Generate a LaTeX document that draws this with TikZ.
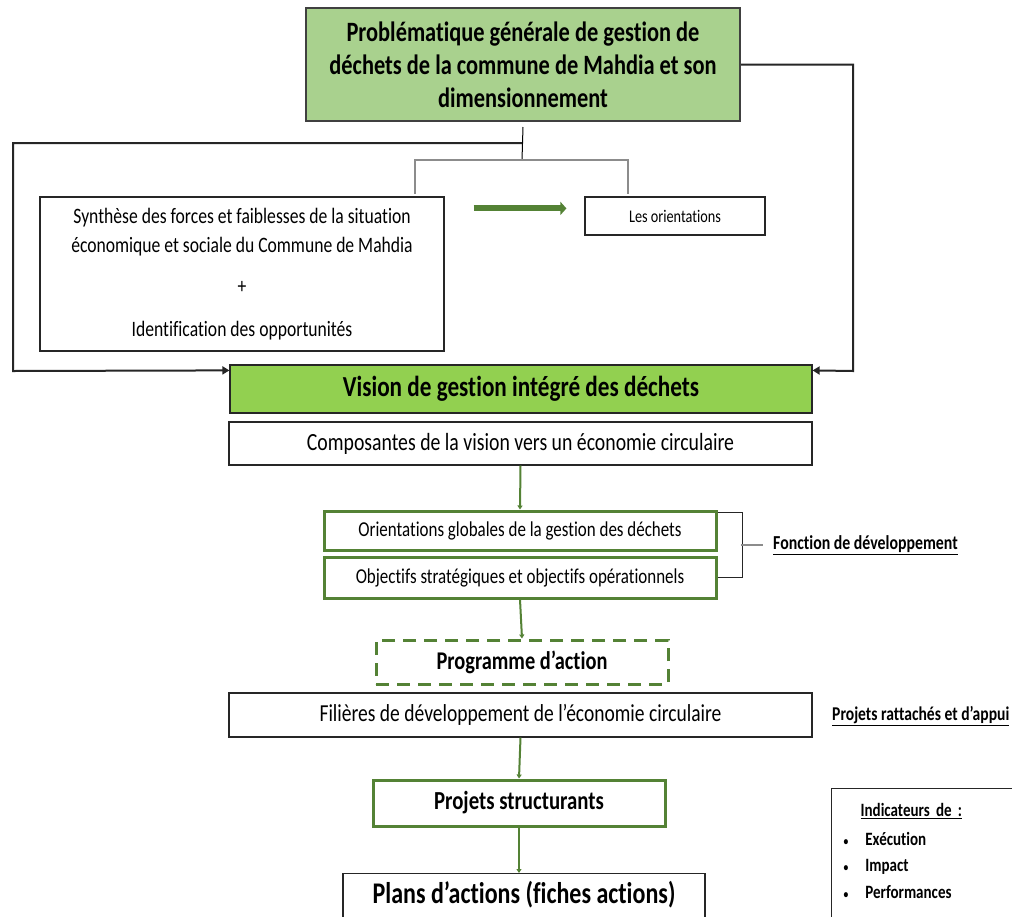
\documentclass[tikz,border=0pt]{standalone}
\usepackage{fontspec}
\setmainfont[FakeStretch=0.8, Ligatures=NoCommon]{Carlito}
\usetikzlibrary{arrows.meta,calc,positioning}
\definecolor{leaf}{HTML}{548235}
\definecolor{palegreen}{HTML}{A9D18E}
\definecolor{limegreen}{HTML}{92D050}

\begin{document}
\begin{tikzpicture}[
x=1pt, y=-1pt,
plainbox/.style={draw=black!85, line width=1.2pt, fill=white, align=center, inner sep=0pt},
greenbox/.style={draw=leaf, line width=3pt, fill=white, align=center, inner sep=0pt},
loopline/.style={-{Triangle[length=7pt,width=8pt]}, line width=2pt, draw=black!85},
flow/.style={-{Triangle[length=4pt,width=5pt]}, line width=2pt, draw=leaf},
bracketline/.style={line width=1.5pt, draw=black!45}
]
\clip (0,0) rectangle (1012,916);
\fill[white] (0,0) rectangle (1012,916);

% top of the diagram
\node[draw=black!75, line width=2pt, fill=palegreen, align=center, inner sep=0pt, minimum width=434pt, minimum height=113pt,
  font=\fontsize{28}{33}\selectfont\bfseries] (prob) at (523,64.5)
  {Problématique générale de gestion de\\déchets de la commune de Mahdia et son\\dimensionnement};
\node[plainbox, minimum width=404pt, minimum height=154pt, font=\fontsize{22}{29}\selectfont] (synth) at (242,274)
  {Synthèse des forces et faiblesses de la situation\\économique et sociale du Commune de Mahdia\\[12pt]+\\[14pt]Identification des opportunités};
\node[plainbox, minimum width=180pt, minimum height=38pt, font=\fontsize{17.8}{20}\selectfont] (lesor) at (675,216) {Les orientations};

% vision
\node[draw=black!85, line width=1.2pt, fill=limegreen, inner sep=0pt, minimum width=582pt, minimum height=48pt,
  font=\fontsize{29}{33}\selectfont\bfseries] (vision) at (521,389) {Vision de gestion intégré des déchets};
\node[plainbox, minimum width=583pt, minimum height=43pt, font=\fontsize{24.7}{28}\selectfont] (comp) at (520.5,443.5)
  {Composantes de la vision vers un économie circulaire};
\node[greenbox, minimum width=392pt, minimum height=39pt, font=\fontsize{21.2}{24}\selectfont] (orient) at (520,530.5)
  {Orientations globales de la gestion des déchets};
\node[greenbox, minimum width=392pt, minimum height=41pt, font=\fontsize{21.2}{24}\selectfont] (obj) at (520,577.5)
  {Objectifs stratégiques et objectifs opérationnels};
\node[anchor=west, inner sep=0pt, font=\fontsize{19.8}{22}\selectfont\bfseries] (fonction) at (773,545)
  {\underline{Fonction de développement}};

% programme
\node[greenbox, dash pattern=on 13pt off 8pt, minimum width=292pt, minimum height=44pt, font=\fontsize{25.5}{28}\selectfont\bfseries] (prog) at (522,662)
  {Programme d’action};
\node[plainbox, minimum width=583pt, minimum height=44pt, font=\fontsize{24.4}{28}\selectfont] (fil) at (520.5,715)
  {Filières de développement de l’économie circulaire};
\node[anchor=west, inner sep=0pt, font=\fontsize{19.5}{22}\selectfont\bfseries] (rattach) at (832,716)
  {\underline{Projets rattachés et d’appui}};
\node[greenbox, minimum width=292pt, minimum height=46pt, font=\fontsize{26}{30}\selectfont\bfseries] (proj) at (519,803)
  {Projets structurants};
\node[plainbox, anchor=north, minimum width=362pt, text height=25pt, text depth=22pt, inner ysep=5pt,
  font=\fontsize{30}{34}\selectfont\bfseries] (plans) at (524,873) {Plans d’actions (fiches actions)};
\node[plainbox, anchor=north west, align=left, text width=176pt, inner xsep=12pt, inner ysep=6pt, text height=22pt, text depth=108pt,
  font=\fontsize{18.8}{21}\selectfont\bfseries] (indic) at (831,788)
  {\begin{tabular}[t]{@{}l@{\hspace{17pt}}l@{}}
   \multicolumn{2}{@{\hspace{17pt}}l}{\underline{Indicateurs de :}}\\[8pt]
   {\fontsize{12}{12}\selectfont\textbullet} & Exécution\\[5pt]
   {\fontsize{12}{12}\selectfont\textbullet} & Impact\\[6pt]
   {\fontsize{12}{12}\selectfont\textbullet} & Performances
   \end{tabular}};

% connectors
\coordinate (split) at (522,160);
\coordinate (tap) at (522,143);
\coordinate (leftc) at (13,371);
\coordinate (rightc) at (853,371);
\coordinate (brl) at (415,194);
\coordinate (brr) at (628,194);
\draw[line width=1pt, black] ([yshift=-5pt]prob.south) -- (split);
\draw[bracketline] (brl) |- (split) -| (brr);
\draw[loopline] (tap) -| (leftc) -- ([yshift=-6pt]vision.north west);
\draw[loopline] (prob.east) -| (rightc) -- ([yshift=-6pt]vision.north east);
\draw[-{Triangle[length=6pt,width=13pt]}, line width=6pt, leaf] ($(synth.north east)+(29,12)$) -- ($(lesor.north west)+(-18,12)$);

\draw[flow] (comp.south) -- (orient.north);
\draw[flow] (obj.south) -- (prog.north);
\draw[flow] (fil.south) -- (proj.north);
\draw[flow] (proj.south) -- (proj.south |- plans.north);

\draw[bracketline, black!85] ([yshift=-3pt]orient.north east) -| ([xshift=25pt]obj.east) -- (obj.east);
\draw[bracketline] ([xshift=-32pt]fonction.west) -- ([xshift=-10pt]fonction.west);
\end{tikzpicture}
\end{document}
